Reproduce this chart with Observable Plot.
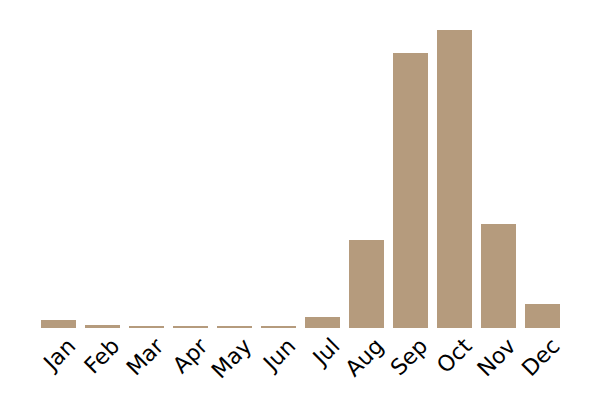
<!DOCTYPE html>
<html>
<head>
<meta charset="utf-8">
<script src="https://cdn.jsdelivr.net/npm/d3@7"></script>
<script src="https://cdn.jsdelivr.net/npm/@observablehq/plot@0.6"></script>
<style>
  html, body { margin: 0; padding: 0; background: #fff; }
  #chart svg { display: block; }
</style>
</head>
<body>
<div id="chart"></div>
<script>
const months = ["Jan","Feb","Mar","Apr","May","Jun","Jul","Aug","Sep","Oct","Nov","Dec"];
const values = [8, 3, 2, 2, 2, 2, 11, 88, 275, 298, 104, 24];

const data = months.map((m, i) => ({month: m, value: values[i]}));

const chart = Plot.plot({
  width: 600,
  height: 400,
  marginLeft: 32,
  marginRight: 31,
  marginTop: 30,
  marginBottom: 72,
  style: {fontFamily: "DejaVu Sans, Verdana, sans-serif", background: "#fff"},
  x: {domain: months, padding: 0.2, label: null},
  y: {domain: [0, d3.max(values)], axis: null},
  marks: [
    Plot.barY(data, {x: "month", y: "value", fill: "#b59b7d"}),
    Plot.axisX({tickSize: 0, tickRotate: -45, tickPadding: 8, fontSize: 22, fill: "#000", label: null, dx: 13, dy: 6})
  ]
});
document.getElementById("chart").appendChild(chart);
</script>
</body>
</html>
